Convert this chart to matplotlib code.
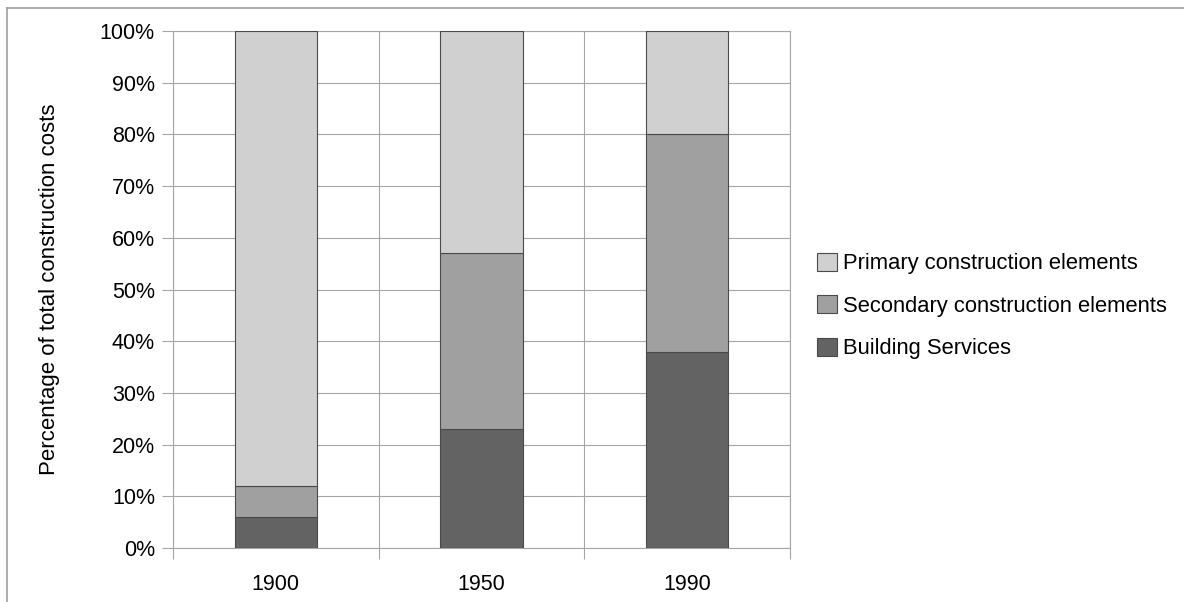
import matplotlib
matplotlib.use('Agg')
import matplotlib.pyplot as plt
from matplotlib.lines import Line2D
from matplotlib.ticker import FixedLocator, PercentFormatter
import numpy as np

plt.rcParams['font.family'] = ['Liberation Sans', 'DejaVu Sans']

# data (percent of total construction costs)
years = ['1900', '1950', '1990']
building_services = [6, 23, 38]
secondary = [6, 34, 42]
primary = [88, 43, 20]

colors = {'primary': '#d0d0d0', 'secondary': '#a0a0a0', 'services': '#636363'}
grid_col = '#a6a6a6'

fig = plt.figure(figsize=(11.84, 6.02), dpi=100)
ax = fig.add_axes([173 / 1184, 1 - 548 / 602, (790 - 173) / 1184, (548 - 31) / 602])

x = np.arange(len(years))
w = 0.40
bs = np.array(building_services)
sec = np.array(secondary)
pri = np.array(primary)

ax.bar(x, bs, w, color=colors['services'], edgecolor='#4a4a4a', linewidth=0.8,
       label='Building Services', zorder=3)
ax.bar(x, sec, w, bottom=bs, color=colors['secondary'], edgecolor='#4a4a4a', linewidth=0.8,
       label='Secondary construction elements', zorder=3)
ax.bar(x, pri, w, bottom=bs + sec, color=colors['primary'], edgecolor='#4a4a4a', linewidth=0.8,
       label='Primary construction elements', zorder=3)

ax.set_xlim(-0.5, len(years) - 0.5)
ax.set_ylim(0, 100)
ax.set_yticks(np.arange(0, 101, 10))
ax.yaxis.set_major_formatter(PercentFormatter(decimals=0))
ax.set_xticks(x)
ax.set_xticklabels(years)
ax.xaxis.set_minor_locator(FixedLocator(np.arange(-0.5, len(years), 1.0)))

ax.tick_params(axis='x', which='major', length=0, pad=19, labelsize=15.5)
ax.tick_params(axis='x', which='minor', length=8, width=0.8, color=grid_col)
ax.tick_params(axis='y', length=8, width=0.8, color=grid_col, labelsize=15.5, pad=5)

ax.grid(True, axis='y', which='major', color=grid_col, linewidth=0.8, zorder=0)
ax.grid(True, axis='x', which='minor', color=grid_col, linewidth=0.8, zorder=0)
for s in ax.spines.values():
    s.set_color(grid_col)
    s.set_linewidth(0.8)
ax.set_axisbelow(True)

ax.set_ylabel('Percentage of total construction costs', fontsize=16, labelpad=29)

handles, labels = ax.get_legend_handles_labels()
leg = fig.legend(handles[::-1], labels[::-1], loc='center left',
                 bbox_to_anchor=(817 / 1184, 1 - 306 / 602), frameon=False,
                 fontsize=15.8, borderpad=0, borderaxespad=0, handlelength=0.9,
                 handleheight=0.9, handletextpad=0.27, labelspacing=0.95)

# outer frame (top and left edges visible)
fig.add_artist(Line2D([7 / 1184, 1], [1 - 8 / 602, 1 - 8 / 602], transform=fig.transFigure,
                      color='#a0a0a0', linewidth=1.2))
fig.add_artist(Line2D([7 / 1184, 7 / 1184], [0, 1 - 8 / 602], transform=fig.transFigure,
                      color='#a0a0a0', linewidth=1.2))

fig.savefig('out.png', dpi=100, facecolor='white')
